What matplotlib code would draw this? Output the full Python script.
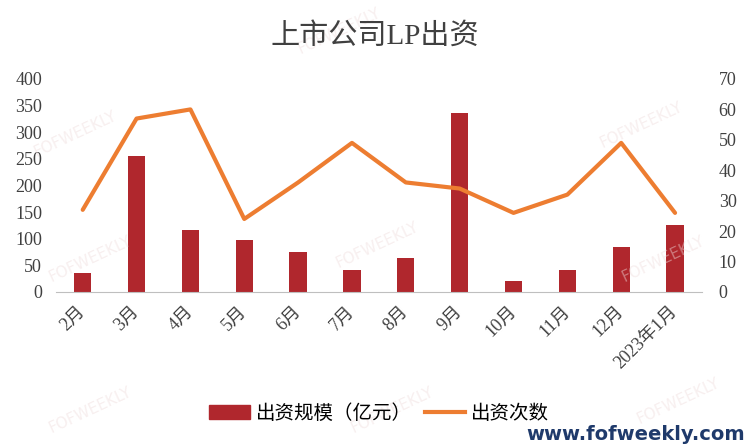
import numpy as np
import matplotlib
matplotlib.use('Agg')
import matplotlib.pyplot as plt
from matplotlib.lines import Line2D
from matplotlib.patches import Patch

plt.rcParams['font.family'] = ['Liberation Serif', 'Noto Sans CJK SC']

# data
months = ['2月', '3月', '4月', '5月', '6月', '7月', '8月', '9月', '10月', '11月', '12月', '2023年1月']
amount = [35, 255, 116, 98, 76, 42, 63, 336, 20, 41, 84, 125]   # 出资规模（亿元）
count = [27, 57, 60, 24, 36, 49, 36, 34, 26, 32, 49, 26]         # 出资次数

bar_color = '#B0272D'
line_color = '#ED7D31'

fig = plt.figure(figsize=(7.54, 4.46), dpi=100)
ax = fig.add_axes([0.074, 0.3453, 0.857, 0.4776])
x = np.arange(len(months))
ax.bar(x, amount, width=0.32, color=bar_color, zorder=2)
ax.set_xlim(-0.5, len(months) - 0.5)
ax.set_ylim(0, 400)
ax.set_yticks(np.arange(0, 401, 50))

ax2 = ax.twinx()
ax2.plot(x, count, color=line_color, lw=3, solid_capstyle='round', zorder=3)
ax2.set_ylim(0, 70)
ax2.set_yticks(np.arange(0, 71, 10))

for a in (ax, ax2):
    for s in a.spines.values():
        s.set_visible(False)
    a.tick_params(length=0, labelsize=13, colors='#404040')
ax.spines['bottom'].set_visible(True)
ax.spines['bottom'].set_color('#BFBFBF')
ax.tick_params(axis='y', pad=10)
ax2.tick_params(axis='y', pad=12)

ax.set_xticks(x)
ax.set_xticklabels(months, rotation=45, ha='right', va='center', rotation_mode='anchor',
                   fontsize=13, family=['Liberation Serif', 'Noto Sans CJK SC'])
ax.tick_params(axis='x', pad=12)

fig.text(0.497, 0.918, '上市公司LP出资', ha='center', va='center', fontsize=21, color='#404040',
         family=['Liberation Serif', 'Noto Sans CJK SC'])

handles = [Patch(color=bar_color), Line2D([0], [0], color=line_color, lw=3)]
fig.legend(handles, ['出资规模（亿元）', '出资次数'], loc='center', bbox_to_anchor=(0.503, 0.073),
           ncol=2, frameon=False, handlelength=2.1, handleheight=0.7, handletextpad=0.3,
           columnspacing=0.65, prop={'family': 'Noto Sans CJK SC', 'size': 14})

# watermarks
for wx, wy in [(0.1, 0.7), (0.45, 0.93), (0.85, 0.72), (0.12, 0.42), (0.5, 0.45), (0.88, 0.42),
               (0.12, 0.08), (0.52, 0.08), (0.9, 0.1)]:
    fig.text(wx, wy, 'FOFWEEKLY', rotation=25, ha='center', va='center', fontsize=11,
             color='#EFDCDC', alpha=0.45, family='DejaVu Sans', zorder=0)

fig.text(0.988, 0.025, 'www.fofweekly.com', ha='right', va='center', fontsize=14,
         fontweight='bold', color='#1F3A6B', family='DejaVu Sans')

fig.savefig('out.png', dpi=100)
